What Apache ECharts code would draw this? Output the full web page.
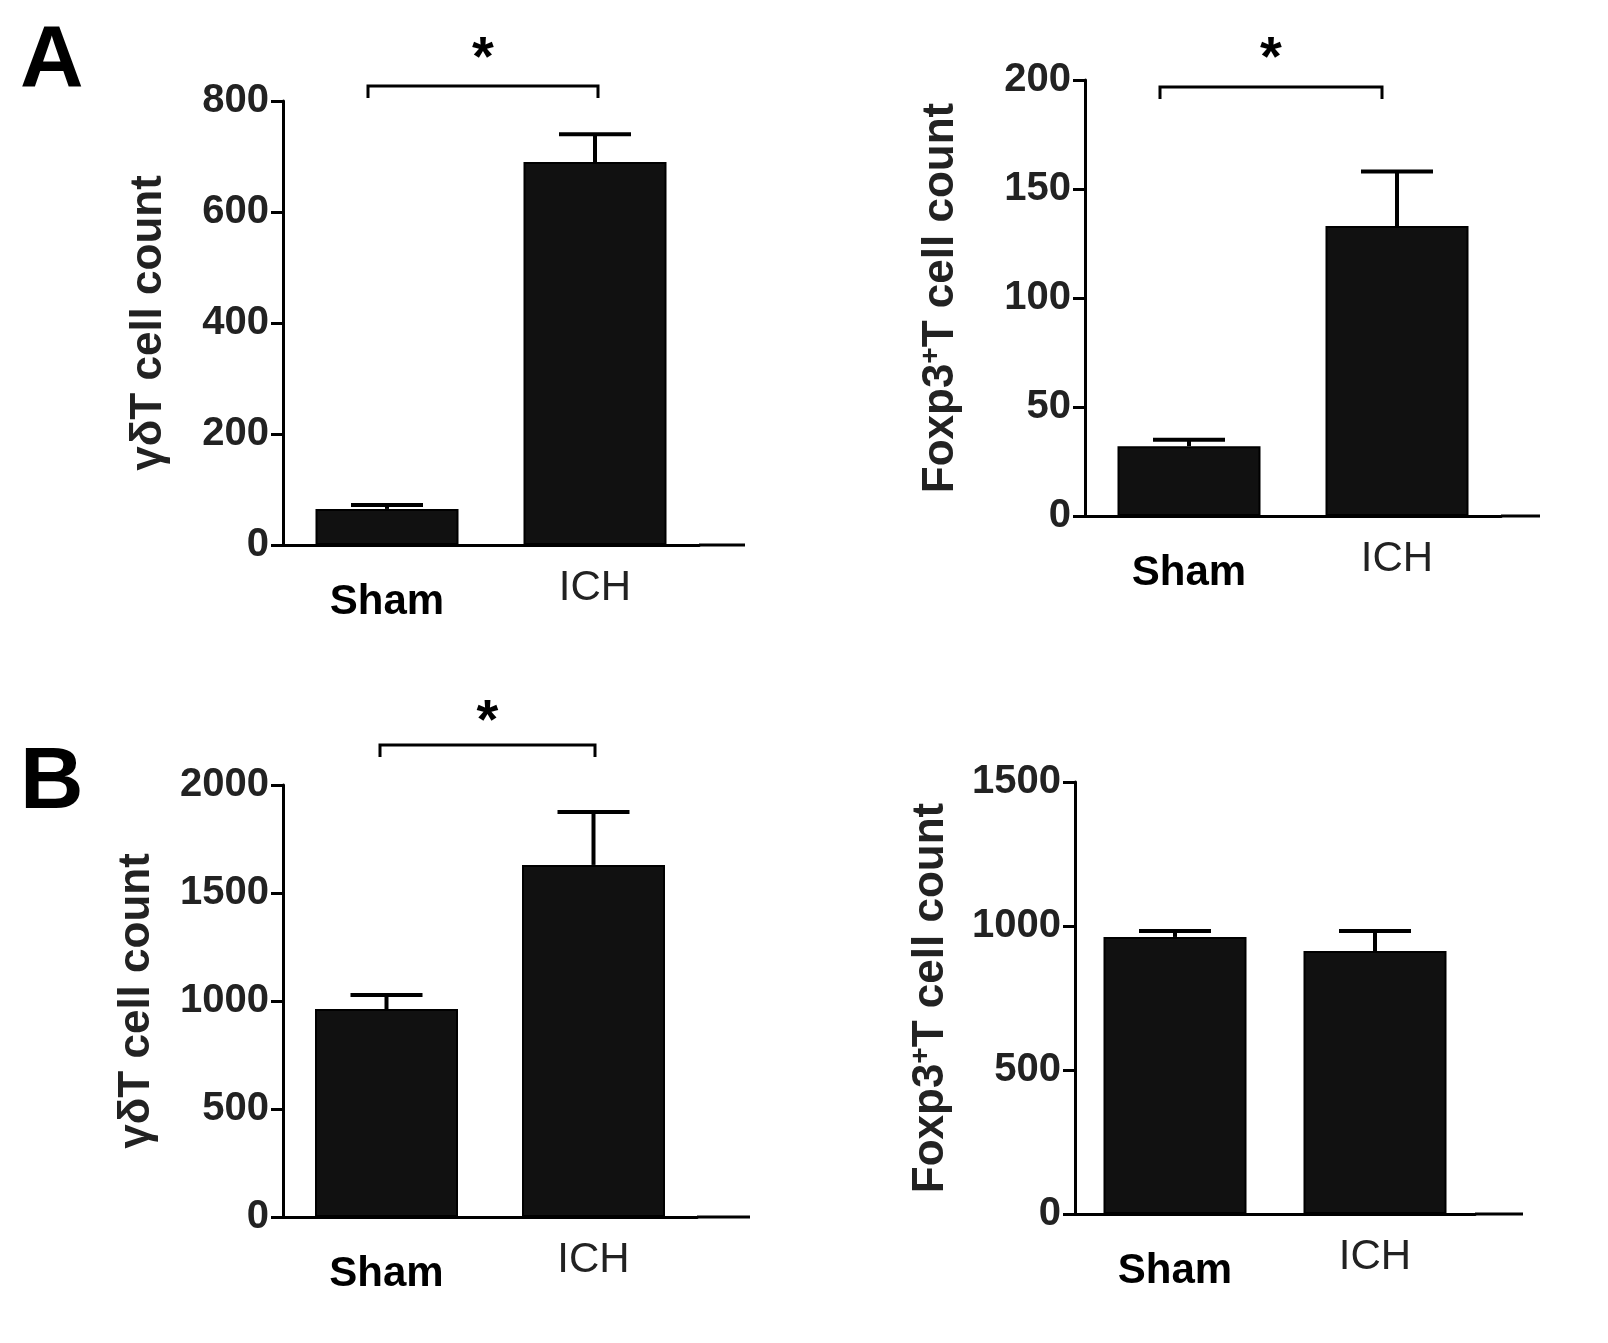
<!DOCTYPE html>
<html>
<head>
<meta charset="utf-8">
<script src="https://cdn.jsdelivr.net/npm/echarts@6/dist/echarts.min.js"></script>
<style>
  html, body { margin: 0; background: #fff; }
  #chart { width: 1608px; height: 1343px; }
</style>
</head>
<body>
<div id="chart"></div>
<script>
const groups = ['Sham', 'ICH'];
const aGammaMean = [65, 690];
const aGammaTop = [72, 740];
const aFoxMean = [32, 133];
const aFoxTop = [35, 158];
const bGammaMean = [963, 1630];
const bGammaTop = [1028, 1875];
const bFoxMean = [962, 913];
const bFoxTop = [983, 983];

const font = 'Liberation Sans, Arial, sans-serif';
const gammaName = 'γδT cell count';
const foxName = '{n|Foxp3}{s|+}{n|T cell count}';

const panels = [
  { l: 283, t: 101, w: 416, h: 444, max: 800, step: 200, gap: 112, name: gammaName, mean: aGammaMean, top: aGammaTop, end: 745, ichLabelUp: false },
  { l: 1085, t: 80, w: 416, h: 436, max: 200, step: 50, gap: 120, name: foxName, mean: aFoxMean, top: aFoxTop, end: 1540, ichLabelUp: true },
  { l: 283, t: 785, w: 414, h: 432, max: 2000, step: 500, gap: 124, name: gammaName, mean: bGammaMean, top: bGammaTop, end: 750, ichLabelUp: false },
  { l: 1075, t: 782, w: 400, h: 432, max: 1500, step: 500, gap: 120, name: foxName, mean: bFoxMean, top: bFoxTop, end: 1523, ichLabelUp: true }
];

const grid = [], xAxis = [], yAxis = [], series = [], graphic = [];
panels.forEach((p, i) => {
  grid.push({ left: p.l, top: p.t, width: p.w, height: p.h });
  xAxis.push({
    type: 'category', gridIndex: i, data: groups,
    axisLine: { lineStyle: { color: '#000', width: 3 } },
    axisTick: { alignWithLabel: true, interval: 0, length: 10, lineStyle: { color: '#000', width: 3 } },
    axisLabel: {
      interval: 0, margin: 22, color: '#000', fontSize: 42, fontFamily: font,
      formatter: v => v === 'Sham' ? '{b|Sham}' : '{r|ICH}',
      rich: {
        b: { fontSize: 42, fontWeight: 'bold', color: '#000', fontFamily: font, padding: [14, 0, 0, 0] },
        r: { fontSize: 42, color: '#222', fontFamily: font, padding: [0, 0, p.ichLabelUp ? 10 : 0, 0] }
      }
    }
  });
  yAxis.push({
    type: 'value', gridIndex: i, min: 0, max: p.max, interval: p.step,
    splitLine: { show: false },
    axisLine: { show: true, lineStyle: { color: '#000', width: 3 } },
    axisTick: { show: true, length: 12, lineStyle: { color: '#000', width: 3 } },
    axisLabel: { color: '#222', fontSize: 40, fontWeight: 'bold', fontFamily: font, margin: 14, formatter: v => String(v) },
    name: p.name, nameLocation: 'middle', nameGap: p.gap, nameRotate: 90,
    nameTextStyle: {
      color: '#222', fontSize: 44, fontWeight: 'bold', fontFamily: font,
      rich: {
        n: { fontSize: 44, fontWeight: 'bold', color: '#222', fontFamily: font },
        s: { fontSize: 28, fontWeight: 'bold', color: '#222', fontFamily: font, verticalAlign: 'top', padding: [0, 0, 20, 0] }
      }
    }
  });
  series.push({
    type: 'bar', xAxisIndex: i, yAxisIndex: i, data: p.mean, barWidth: 143,
    itemStyle: { color: '#111', borderColor: '#000', borderWidth: 2 }
  });
  series.push({
    type: 'custom', xAxisIndex: i, yAxisIndex: i,
    data: p.mean.map((m, k) => [k, m, p.top[k]]),
    renderItem: (params, api) => {
      const a = api.coord([api.value(0), api.value(1)]);
      const b = api.coord([api.value(0), api.value(2)]);
      const st = { stroke: '#000', lineWidth: 4 };
      return { type: 'group', children: [
        { type: 'line', shape: { x1: a[0], y1: a[1], x2: b[0], y2: b[1] }, style: st },
        { type: 'line', shape: { x1: b[0] - 36, y1: b[1], x2: b[0] + 36, y2: b[1] }, style: st }
      ] };
    },
    z: 3
  });
  const y0 = p.t + p.h;
  graphic.push({ type: 'line', shape: { x1: p.l + p.w, y1: y0, x2: p.end, y2: y0 }, style: { stroke: '#000', lineWidth: 3 } });
});

function bracket(x1, x2, y, starY) {
  graphic.push({ type: 'polyline', shape: { points: [[x1, y + 12], [x1, y], [x2, y], [x2, y + 12]] }, style: { stroke: '#000', lineWidth: 3, fill: null } });
  graphic.push({ type: 'text', x: (x1 + x2) / 2, y: starY, style: { text: '*', font: 'bold 56px ' + font, fill: '#000', textAlign: 'center' } });
}
bracket(368, 598, 86, 32);
bracket(1160, 1382, 87, 32);
bracket(380, 595, 745, 695);

graphic.push({ type: 'text', x: 20, y: 18, style: { text: 'A', font: 'bold 88px ' + font, fill: '#000' } });
graphic.push({ type: 'text', x: 20, y: 740, style: { text: 'B', font: 'bold 88px ' + font, fill: '#000' } });

const chart = echarts.init(document.getElementById('chart'));
chart.setOption({ animation: false, grid, xAxis, yAxis, series, graphic });
</script>
</body>
</html>
